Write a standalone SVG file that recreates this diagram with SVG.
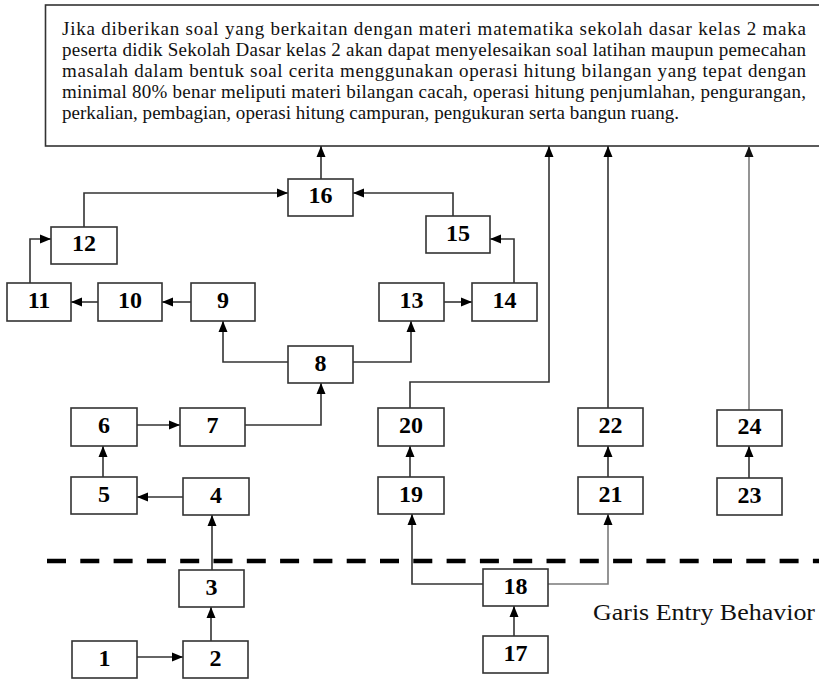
<svg xmlns="http://www.w3.org/2000/svg" width="819" height="680" viewBox="0 0 819 680">
<style>
.box{fill:#fff;stroke:#333;stroke-width:1.6}
.lbl{font-family:"Liberation Serif","Times New Roman",serif;font-weight:bold;font-size:24px;fill:#000;text-anchor:middle}
.goal{font-family:"Liberation Serif","Times New Roman",serif;font-size:19px;fill:#111}
.ln{fill:none;stroke:#333;stroke-width:1.6}
.lg{fill:none;stroke:#7a7a7a;stroke-width:1.6}
</style>
<defs>
<marker id="ah" markerUnits="userSpaceOnUse" markerWidth="12" markerHeight="10" refX="11" refY="5" orient="auto">
<path d="M0,0.5 L11,5 L0,9.5 z" fill="#000"/>
</marker>
<marker id="ahg" markerUnits="userSpaceOnUse" markerWidth="12" markerHeight="10" refX="11" refY="5" orient="auto">
<path d="M0,0.5 L11,5 L0,9.5 z" fill="#111"/>
</marker>
</defs>
<rect width="819" height="680" fill="#fff"/>

<g id="goal">
<rect x="45.5" y="5" width="800" height="141" fill="#fff" stroke="#333" stroke-width="1.6"/>
<text class="goal" x="62" y="34.5" textLength="744" lengthAdjust="spacing">Jika diberikan soal yang berkaitan dengan materi matematika sekolah dasar kelas 2 maka</text>
<text class="goal" x="62" y="55.5" textLength="744" lengthAdjust="spacing">peserta didik Sekolah Dasar kelas 2 akan dapat menyelesaikan soal latihan maupun pemecahan</text>
<text class="goal" x="62" y="76.5" textLength="744" lengthAdjust="spacing">masalah dalam bentuk soal cerita menggunakan operasi hitung bilangan yang tepat dengan</text>
<text class="goal" x="62" y="97.5" textLength="744" lengthAdjust="spacing">minimal 80% benar meliputi materi bilangan cacah, operasi hitung penjumlahan, pengurangan,</text>
<text class="goal" x="62" y="118.5" textLength="617" lengthAdjust="spacing">perkalian, pembagian, operasi hitung campuran, pengukuran serta bangun ruang.</text>
</g>

<g id="entry-line">
<line x1="47" y1="561" x2="819" y2="561" stroke="#000" stroke-width="4.5" stroke-dasharray="19 14.3"/>
<text x="593" y="620" font-family="Liberation Serif, Times New Roman, serif" font-size="24" fill="#111" textLength="222" lengthAdjust="spacingAndGlyphs">Garis Entry Behavior</text>
</g>

<g id="connectors">
<path class="ln" d="M137,657 H183" marker-end="url(#ah)"/>
<path class="ln" d="M211,641 V607" marker-end="url(#ah)"/>
<path class="ln" d="M212,570 V515" marker-end="url(#ah)"/>
<path class="ln" d="M183,497 H137" marker-end="url(#ah)"/>
<path class="ln" d="M103,477 V446" marker-end="url(#ah)"/>
<path class="ln" d="M137,425 H180" marker-end="url(#ah)"/>
<path class="ln" d="M245,425 H321 V383" marker-end="url(#ah)"/>
<path class="ln" d="M288,362 H223 V321" marker-end="url(#ah)"/>
<path class="ln" d="M353,362 H411 V321" marker-end="url(#ah)"/>
<path class="ln" d="M191,302 H162" marker-end="url(#ah)"/>
<path class="ln" d="M98,302 H71" marker-end="url(#ah)"/>
<path class="ln" d="M30,283 V239 H51" marker-end="url(#ah)"/>
<path class="ln" d="M84,227 V193 H288" marker-end="url(#ah)"/>
<path class="ln" d="M444,302 H472" marker-end="url(#ah)"/>
<path class="ln" d="M514,283 V239 H490" marker-end="url(#ah)"/>
<path class="ln" d="M453,216 V193 H353" marker-end="url(#ah)"/>
<path class="ln" d="M321,179 V146" marker-end="url(#ah)"/>
<path class="ln" d="M410,408 V382 H549 V146" marker-end="url(#ah)"/>
<path class="ln" d="M608,408 V146" marker-end="url(#ah)"/>
<path class="lg" d="M749,410 V146" marker-end="url(#ahg)"/>
<path class="ln" d="M410,477 V446" marker-end="url(#ah)"/>
<path class="ln" d="M608,477 V446" marker-end="url(#ah)"/>
<path class="ln" d="M749,478 V446" marker-end="url(#ah)"/>
<path class="ln" d="M514,636 V606" marker-end="url(#ah)"/>
<path class="ln" d="M483,584 H412 V514" marker-end="url(#ah)"/>
<path class="lg" d="M548,584 H608 V514" marker-end="url(#ah)"/>
</g>

<g id="n1"><rect class="box" x="72" y="641" width="65" height="37"/><text class="lbl" x="104.5" y="665.5">1</text></g>
<g id="n2"><rect class="box" x="183" y="641" width="65" height="37"/><text class="lbl" x="215.5" y="665.5">2</text></g>
<g id="n3"><rect class="box" x="179" y="570" width="65" height="37"/><text class="lbl" x="211.5" y="594.5">3</text></g>
<g id="n4"><rect class="box" x="183" y="478" width="66" height="37"/><text class="lbl" x="216" y="502.5">4</text></g>
<g id="n5"><rect class="box" x="71" y="477" width="66" height="37"/><text class="lbl" x="104" y="501.5">5</text></g>
<g id="n6"><rect class="box" x="71" y="408" width="66" height="38"/><text class="lbl" x="104" y="432.5">6</text></g>
<g id="n7"><rect class="box" x="180" y="408" width="65" height="38"/><text class="lbl" x="212.5" y="432.5">7</text></g>
<g id="n8"><rect class="box" x="288" y="346" width="65" height="37"/><text class="lbl" x="320.5" y="370.5">8</text></g>
<g id="n9"><rect class="box" x="191" y="283" width="64" height="38"/><text class="lbl" x="223" y="307.5">9</text></g>
<g id="n10"><rect class="box" x="98" y="283" width="64" height="38"/><text class="lbl" x="130" y="307.5">10</text></g>
<g id="n11"><rect class="box" x="7" y="283" width="64" height="38"/><text class="lbl" x="39" y="307.5">11</text></g>
<g id="n12"><rect class="box" x="51" y="227" width="66" height="37"/><text class="lbl" x="84" y="251">12</text></g>
<g id="n13"><rect class="box" x="379" y="283" width="65" height="38"/><text class="lbl" x="411.5" y="307.5">13</text></g>
<g id="n14"><rect class="box" x="472" y="283" width="65" height="38"/><text class="lbl" x="504.5" y="307.5">14</text></g>
<g id="n15"><rect class="box" x="426" y="216" width="64" height="37"/><text class="lbl" x="458" y="240.5">15</text></g>
<g id="n16"><rect class="box" x="288" y="179" width="65" height="37"/><text class="lbl" x="320.5" y="203">16</text></g>
<g id="n17"><rect class="box" x="483" y="636" width="65" height="37"/><text class="lbl" x="515.5" y="660.5">17</text></g>
<g id="n18"><rect class="box" x="483" y="569" width="65" height="37"/><text class="lbl" x="515.5" y="593.5">18</text></g>
<g id="n19"><rect class="box" x="378" y="477" width="66" height="37"/><text class="lbl" x="411" y="501.5">19</text></g>
<g id="n20"><rect class="box" x="378" y="408" width="66" height="38"/><text class="lbl" x="411" y="432.5">20</text></g>
<g id="n21"><rect class="box" x="578" y="477" width="65" height="37"/><text class="lbl" x="610.5" y="501.5">21</text></g>
<g id="n22"><rect class="box" x="578" y="408" width="65" height="38"/><text class="lbl" x="610.5" y="432.5">22</text></g>
<g id="n23"><rect class="box" x="717" y="478" width="65" height="37"/><text class="lbl" x="749.5" y="502.5">23</text></g>
<g id="n24"><rect class="box" x="717" y="410" width="65" height="36"/><text class="lbl" x="749.5" y="434">24</text></g>
</svg>
